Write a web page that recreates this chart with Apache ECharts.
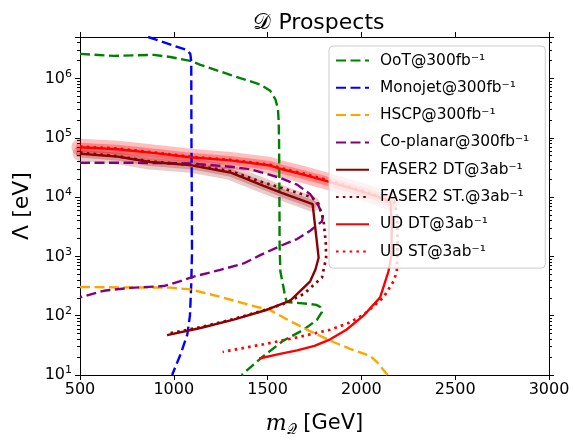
<!DOCTYPE html>
<html><head><meta charset="utf-8">
<script src="https://cdn.jsdelivr.net/npm/echarts@6/dist/echarts.min.js"></script>
<style>html,body{margin:0;padding:0;background:#fff}#c{width:573px;height:442px}</style>
</head><body><div id="c"></div>
<script>
// ---- data ----
const xTicks = [500, 1000, 1500, 2000, 2500, 3000];
const yTickExps = [1, 2, 3, 4, 5, 6];
const legendNames = ['OoT@300fb⁻¹', 'Monojet@300fb⁻¹', 'HSCP@300fb⁻¹', 'Co-planar@300fb⁻¹',
  'FASER2 DT@3ab⁻¹', 'FASER2 ST.@3ab⁻¹', 'UD DT@3ab⁻¹', 'UD ST@3ab⁻¹'];

const oot = [[500,2.6e6],[680,2.4e6],[893,2.5e6],[982,2.3e6],[1088,1.98e6],[1142,1.7e6],[1301,1.15e6],[1461,7.9e5],[1514,6.2e5],[1541,4.5e5],[1555,3.1e5],[1559,1.9e5],[1561,9.5e4],[1563,1e4],[1564,1.5e3],[1568,5.6e2],[1585,2.95e2],[1594,2.05e2],[1603,170],[1650,165],[1710,159],[1760,152],[1781,140],[1790,116],[1763,85],[1692,58],[1584,38],[1479,21],[1372,10.7],[1362,10]];
const monojet = [[863,5e6],[1071,3.0e6],[1088,2.6e6],[1093,1.9e6],[1094,1e5],[1096,1e4],[1097,1.2e3],[1093,3.4e2],[1086,1e2],[1072,48],[1050,30],[1035,22],[991,10]];
const hscp = [[500,305],[716,300],[982,297],[1088,278],[1248,208],[1408,150],[1514,124],[1585,93],[1710,58],[1851,36],[1940,27.6],[2047,21],[2082,16.7],[2140,10]];
const coplanar = [[500,3.8e4],[800,3.78e4],[1088,3.7e4],[1301,3.25e4],[1408,2.95e4],[1568,2.1e4],[1657,1.62e4],[1727,1.12e4],[1771,7.2e3],[1795,4.7e3],[1790,3.9e3],[1727,2.7e3],[1657,1.96e3],[1568,1.5e3],[1461,1.05e3],[1372,760],[1248,592],[1106,457],[1035,382],[946,316],[769,295],[627,263],[500,204]];
const faserDT = [[500,5.4e4],[700,4.8e4],[873,3.9e4],[1088,3.45e4],[1301,2.6e4],[1479,1.55e4],[1568,1.2e4],[1740,7.6e3],[1772,9.5e2],[1755,600],[1727,380],[1621,180],[1497,126],[1319,86],[1142,62],[964,47]];
const faserST = [[500,5.6e4],[700,4.9e4],[873,4.0e4],[1088,3.5e4],[1301,2.75e4],[1479,1.75e4],[1568,1.45e4],[1736,9.9e3],[1771,7.7e3],[1798,4.1e3],[1810,1.7e3],[1812,9.5e2],[1790,440],[1692,232],[1585,158],[1497,128],[1319,88],[1142,64],[973,50]];
const udDT = [[500,6.9e4],[700,6.4e4],[900,5.5e4],[1088,4.7e4],[1301,4.15e4],[1514,3.4e4],[1568,3.0e4],[1700,2.35e4],[1816,1.86e4],[2000,1.25e4],[2100,9.8e3],[2155,8.3e3],[2162,3e3],[2160,1.05e3],[2144,556],[2100,204],[2011,100],[1920,58],[1834,40],[1750,31],[1657,26],[1560,22.5],[1455,19]];
const udST = [[500,7.1e4],[700,6.6e4],[900,5.6e4],[1088,4.8e4],[1301,4.25e4],[1514,3.5e4],[1568,3.1e4],[1700,2.45e4],[1816,1.95e4],[2000,1.3e4],[2100,1.0e4],[2175,8.3e3],[2190,5e3],[2192,1.5e3],[2189,556],[2171,380],[2118,204],[2011,103],[1930,75],[1834,58],[1657,43],[1479,33],[1301,26],[1260,24.4]];
// uncertainty bands follow the upper (horizontal) parts of the DT curves
const udBand = udDT.slice(0, 12);
const faserBand = faserDT.slice(0, 8);

const colors = ['#008000', '#0000ff', '#ffa500', '#800080', '#8b0000', '#8b0000', '#ff0000', '#ff0000'];
const styles = ['dash', 'dash', 'dash', 'dash', 'solid', 'dot', 'solid', 'dot'];
const datasets = [oot, monojet, hscp, coplanar, faserDT, faserST, udDT, udST];

// ---- chart ----
const FONT = 'DejaVu Sans';
const chart = echarts.init(document.getElementById('c'), null, {renderer: 'canvas'});

function lineType(s) {
  if (s === 'dash') return [10, 4.5];
  if (s === 'dot') return [2.6, 4.2];
  return 'solid';
}

const series = [];
function band(data, color, w, op) {
  return {type: 'line', data: data, showSymbol: false, symbol: 'none', silent: true, z: 1,
    lineStyle: {color: color, width: w, opacity: op, cap: 'round', join: 'round'}};
}
series.push(band(faserBand, '#8b0000', 15, 0.2));
series.push(band(faserBand, '#8b0000', 8, 0.25));
series.push(band(udBand, '#ff0000', 17, 0.25));
series.push(band(udBand, '#ff0000', 9, 0.3));

datasets.forEach((d, i) => {
  series.push({
    name: legendNames[i], type: 'line', data: d, symbol: 'none', showSymbol: false, z: 2,
    lineStyle: {color: colors[i], width: styles[i] === 'dot' ? 2.7 : 2.4, type: lineType(styles[i]), cap: 'butt'},
    itemStyle: {color: colors[i]}
  });
});

const yLabelFmt = v => {
  const e = Math.round(Math.log10(v));
  if (Math.abs(Math.log10(v) - e) < 1e-6 && yTickExps.indexOf(e) >= 0) return '{b|10}{s|' + e + '}';
  return '';
};
const xLabelFmt = v => (xTicks.indexOf(v) >= 0 ? String(v) : '');

const axisLine = {show: true, onZero: false, lineStyle: {color: '#000', width: 1}};
chart.setOption({
  animation: false,
  backgroundColor: '#fff',
  title: {text: '𝒟 Prospects', left: 314, textAlign: 'center', top: 7,
    textStyle: {fontFamily: FONT, fontSize: 22, fontWeight: 'normal', color: '#000'}},
  grid: {left: 80, right: 24, top: 37, bottom: 55},
  legend: {
    z: 50,
    data: legendNames.map(n => ({name: n, itemStyle: {opacity: 0}})),
    orient: 'vertical', left: 329, top: 46,
    itemWidth: 33, itemHeight: 14, itemGap: 12.3,
    padding: [7, 16, 9, 6],
    backgroundColor: 'rgba(255,255,255,0.8)', borderColor: '#cccccc', borderWidth: 1, borderRadius: 4,
    textStyle: {fontFamily: FONT, fontSize: 15.4, color: '#000', padding: [0, 0, 0, 6]}
  },
  xAxis: [{
    type: 'value', min: 500, max: 3000, interval: 500, position: 'bottom',
    axisLine: axisLine, splitLine: {show: false},
    axisTick: {show: true, inside: false, length: 5, lineStyle: {color: '#000'}},
    axisLabel: {formatter: xLabelFmt, fontFamily: FONT, fontSize: 16, color: '#000', margin: 7},
    name: '{i|m}{sub|𝒬} [GeV]', nameLocation: 'middle', nameGap: 36,
    nameTextStyle: {fontFamily: FONT, fontSize: 21, color: '#000',
      rich: {i: {fontFamily: 'DejaVu Serif', fontStyle: 'italic', fontSize: 22},
             sub: {fontSize: 14, padding: [12, 0, 0, 0]}}}
  }, {
    type: 'value', min: 500, max: 3000, interval: 500, position: 'top',
    axisLine: axisLine, splitLine: {show: false},
    axisTick: {show: true, inside: false, length: 5, lineStyle: {color: '#000'}},
    axisLabel: {show: false}
  }],
  yAxis: [{
    type: 'log', logBase: 10, min: 10, max: 5e6, position: 'left',
    axisLine: axisLine, splitLine: {show: false},
    axisTick: {show: true, inside: false, length: 5, lineStyle: {color: '#000'}},
    minorTick: {show: true, splitNumber: 9, length: 3, lineStyle: {color: '#000'}},
    axisLabel: {formatter: yLabelFmt, color: '#000', margin: 8,
      rich: {b: {fontFamily: FONT, fontSize: 16}, s: {fontFamily: FONT, fontSize: 11, padding: [0, 0, 9, 0]}}},
    name: 'Λ [eV]', nameLocation: 'middle', nameGap: 46, nameRotate: 90,
    nameTextStyle: {fontFamily: FONT, fontSize: 22, color: '#000'}
  }, {
    type: 'log', logBase: 10, min: 10, max: 5e6, position: 'right',
    axisLine: axisLine, splitLine: {show: false},
    axisTick: {show: true, inside: false, length: 5, lineStyle: {color: '#000'}},
    minorTick: {show: true, splitNumber: 9, length: 3, lineStyle: {color: '#000'}},
    axisLabel: {show: false}
  }],
  series: series
});
</script>
</body></html>
